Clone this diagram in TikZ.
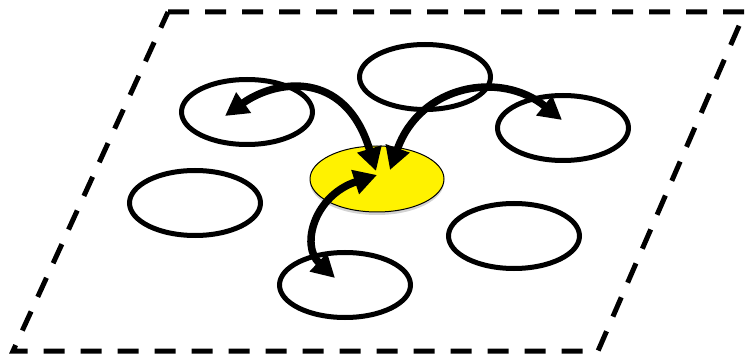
\documentclass[tikz,border=0pt]{standalone}
\usetikzlibrary{shapes.geometric,arrows.meta,shadows,calc}
\begin{document}
\begin{tikzpicture}[x=1pt,y=-1pt,
  ring/.style={draw=black,line width=5pt,ellipse,minimum width=131pt,minimum height=65pt,inner sep=0pt},
  hub/.style={draw=black,line width=1pt,fill=yellow,ellipse,minimum width=134pt,minimum height=66pt,inner sep=0pt,
    drop shadow={shadow xshift=0pt,shadow yshift=-3pt,opacity=0.35}},
  link/.style={line width=7.5pt,{Triangle[length=23pt,width=24pt]}-{Triangle[length=23pt,width=24pt]}},
  plane/.style={line width=5pt,dash pattern=on 21pt off 16pt}]
\useasboundingbox (0,0) rectangle (747,358);
\draw[plane] (168,12) -- (745,12) -- (598,351) -- (13,351) -- cycle;
\node[ring] (tl) at (247,112) {};
\node[ring] (tm) at (425,77) {};
\node[ring] (rt) at (563,128) {};
\node[ring] (ml) at (195,203) {};
\node[ring] (br) at (514,236) {};
\node[ring] (bm) at (345,285) {};
\node[hub] (hub) at (377,179) {};
\coordinate (a1) at (225,116);
\coordinate (a2) at (376,171);
\coordinate (b1) at (390,170);
\coordinate (b2) at (562,120);
\coordinate (c1) at (377,175);
\coordinate (c2) at (335,278);
\draw[link] (a1) .. controls (275,80) and (345,68) .. (a2);
\draw[link] (b1) .. controls (420,85) and (500,70) .. (b2);
\draw[link] (c1) .. controls (315,195) and (300,245) .. (c2);
\end{tikzpicture}
\end{document}
